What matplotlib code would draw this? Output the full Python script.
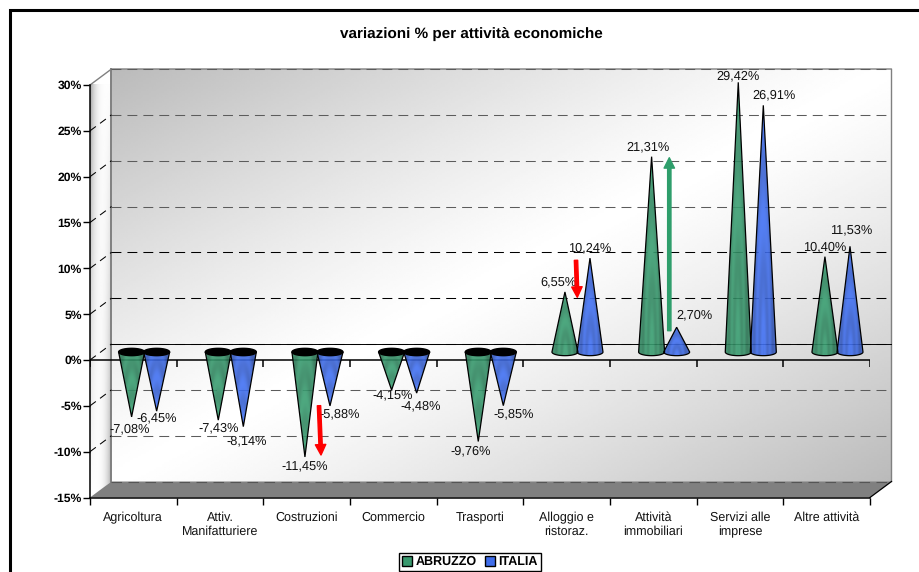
import matplotlib
matplotlib.use('Agg')
import matplotlib.pyplot as plt
import numpy as np
from matplotlib.patches import Polygon, Patch, Rectangle

plt.rcParams['font.family'] = ['Liberation Sans', 'DejaVu Sans']
plt.rcParams['text.hinting'] = 'none'

categories = ['Agricoltura', 'Attiv.\nManifatturiere', 'Costruzioni', 'Commercio', 'Trasporti',
              'Alloggio e\nristoraz.', 'Attività\nimmobiliari', 'Servizi alle\nimprese', 'Altre attività']
abruzzo = [-7.08, -7.43, -11.45, -4.15, -9.76, 6.55, 21.31, 29.42, 10.40]
italia = [-6.45, -8.14, -5.88, -4.48, -5.85, 10.24, 2.70, 26.91, 11.53]
y_ticks = [-15, -10, -5, 0, 5, 10, 15, 20, 25, 30]

# where the labels sit relative to the cone tip, in pixels
abruzzo_off = [(-2, -12), (0, -8), (0, -9), (1, -5), (-8, -10), (-7, 10), (-4, 10), (0, 6), (0, 10)]
italia_off = [(0, -7), (3, -14), (10, -8), (4, -13), (10, -8), (0, 10), (18, 12), (11, 10), (1, 16)]

W, H = 919, 572
GREEN = np.array([0.22, 0.60, 0.43])
BLUE = np.array([0.25, 0.43, 0.92])

fig = plt.figure(figsize=(W / 100, H / 100), dpi=100)
ax = fig.add_axes([90 / W, (H - 497.5) / H, 780 / W, 412.5 / H])
ax.set_facecolor('none')
ax.set_autoscale_on(False)
ax.set_xlim(0, 9)
ax.set_ylim(-15, 30)

# depth of the fake 3d box, data units
DX = 21.5 / 86.67
DY = 16 / 9.167


def wall_back():
    u, s = np.meshgrid(np.linspace(0, 1, 300), np.linspace(0, 1, 200))
    d = np.abs(u + s - 1)
    ax.imshow(1 - 0.27 * d ** 1.2, cmap='gray', vmin=0, vmax=1, aspect='auto', zorder=1, clip_on=False,
              extent=(DX, 9 + DX, -15 + DY, 30 + DY), interpolation='bilinear')


def wall_side():
    u, s = np.meshgrid(np.linspace(0, 1, 40), np.linspace(0, 1, 200))
    v = 1 - 0.38 * ((1 - s) * (1 - u) ** 4 + s * u ** 4)
    im = ax.imshow(v, cmap='gray', vmin=0, vmax=1, aspect='auto', zorder=1,
                   extent=(0, DX, -15, 30 + DY), interpolation='bilinear')
    clip = Polygon([(0, -15), (DX, -15 + DY), (DX, 30 + DY), (0, 30)], closed=True, fc='none', ec='none',
                   transform=ax.transData, clip_on=False)
    ax.add_patch(clip)
    im.set_clip_path(clip)
    im.set_clip_box(None)


def cone(x, value, color):
    base = DY / 2
    bw = 0.15
    eh = 0.40
    tip = base + value
    t = np.linspace(0, np.pi, 40)
    if value >= 0:
        arc = np.column_stack([x - bw * np.cos(t), base - eh * np.sin(t)])
    else:
        arc = np.array([[x - bw, base], [x + bw, base]])
    pts = np.vstack([arc, [[x, tip]]])
    poly = Polygon(pts, closed=True, fc='none', ec='black', lw=0.9, zorder=5, clip_on=False)
    ax.add_patch(poly)
    # wood like texture of the original chart
    u, s = np.meshgrid(np.linspace(-1, 1, 70), np.linspace(0, 1, 120))
    rings = np.sin(16 * np.sqrt(u ** 2 + (0.9 * s) ** 2))
    shade = 0.97 + 0.07 * rings - 0.2 * u ** 2 - 0.08 * np.clip(u, 0, 1)
    tex = np.clip(color[None, None, :] * shade[:, :, None], 0, 1)
    lo, hi = min(base - eh, tip), max(base + eh, tip)
    im = ax.imshow(tex, aspect='auto', zorder=4, alpha=0.9, extent=(x - bw, x + bw, lo, hi),
                   interpolation='bilinear', origin='lower')
    im.set_clip_path(poly)
    im.set_clip_box(None)
    if value < 0:
        xe = x + bw * np.cos(np.linspace(0, 2 * np.pi, 60))
        ye = base + eh * np.sin(np.linspace(0, 2 * np.pi, 60))
        ax.fill(xe, ye, color='black', zorder=6, clip_on=False)


wall_back()
wall_side()

# floor
ax.add_patch(Polygon([(0, -15), (9, -15), (9 + DX, -15 + DY), (DX, -15 + DY)], closed=True, fc='#808080',
                     ec='none', zorder=1.5, clip_on=False))
ax.plot([9, 9 + DX], [-15, -15 + DY], color='black', lw=0.9, zorder=3, clip_on=False)

# box outline
ax.plot([0, DX, 9 + DX, 9 + DX], [30, 30 + DY, 30 + DY, -15 + DY], color='#808080', lw=1, zorder=1.8, clip_on=False)
ax.plot([DX, DX], [30 + DY, -15 + DY], color='#808080', lw=1.4, zorder=1.8, clip_on=False)

# gridlines on back wall and side wall
for y in y_ticks[1:]:
    col = 'black' if y in (0, 5, 10) else '#5c5c5c'
    ax.plot([DX, 9 + DX], [y + DY, y + DY], color=col, lw=0.75, ls=(0, (9.5, 5.8)), zorder=2, clip_on=False)
    if y != 30:
        ax.plot([0, DX], [y, y + DY], color='black', lw=0.75, ls=(0, (7, 5)), zorder=2, clip_on=False)
ax.plot([DX, 9 + DX], [DY, DY], color='black', lw=0.7, zorder=2, clip_on=False)
ax.plot([DX, 9 + DX], [-15 + DY, -15 + DY], color='#555555', lw=0.8, ls=(0, (9.5, 5.8)), zorder=2, clip_on=False)

# zero line with its ticks
ax.axhline(0, color='black', lw=1.1, zorder=3)
ax.vlines(np.arange(10), -0.76, 0, color='black', lw=1.1, zorder=3)

for i in range(len(categories)):
    mid = i + 0.5 + DX / 2
    cone(mid - 0.144, abruzzo[i], GREEN)
    cone(mid + 0.145, italia[i], BLUE)
    for xp, v, off in ((mid - 0.144, abruzzo[i], abruzzo_off[i]), (mid + 0.145, italia[i], italia_off[i])):
        ax.annotate(f'{v:.2f}%'.replace('.', ','), (xp, DY / 2 + v), xytext=off, textcoords='offset pixels',
                    ha='center', va='center', fontsize=9.2, color='#111111', zorder=7, annotation_clip=False)

# arrows, placed on the figure by hand like in the original
for start, end, col in (((319, 405.7), (321, 455), 'red'), ((576, 260.3), (577.3, 297.3), 'red'),
                        ((669.3, 330.7), (669.3, 157.7), '#2e9e6b')):
    ax.annotate('', xy=(end[0], H - end[1]), xytext=(start[0], H - start[1]), xycoords='figure pixels',
                textcoords='figure pixels', zorder=8, annotation_clip=False,
                arrowprops=dict(width=2.4, headwidth=7.5, headlength=7.5, color=col, shrink=0))

for side in ('top', 'right'):
    ax.spines[side].set_visible(False)
for side in ('left', 'bottom'):
    ax.spines[side].set_linewidth(1.1)
    ax.spines[side].set_zorder(3)

ax.set_yticks(y_ticks)
ax.set_yticklabels([f'{y}%' for y in y_ticks], fontweight='bold', fontsize=8.7)
ax.tick_params(axis='y', length=5, width=1, pad=1)
ax.set_xticks(np.arange(10))
ax.set_xticklabels([])
ax.tick_params(axis='x', length=5, width=1)
ax.set_xticks(np.arange(9) + 0.5, minor=True)
ax.set_xticklabels(categories, minor=True, fontsize=9, color='#111111', linespacing=1.25)
ax.tick_params(axis='x', which='minor', length=0, pad=10)

fig.text(471 / W, (H - 34) / H, 'variazioni % per attività economiche', ha='center', va='center',
         fontsize=11, fontweight='bold')

handles = [Patch(fc=GREEN, ec='black', lw=1, label='ABRUZZO'), Patch(fc=BLUE, ec='black', lw=1, label='ITALIA')]
fig.legend(handles=handles, loc='center', bbox_to_anchor=(470 / W, (H - 562) / H), ncol=2, frameon=True,
           fancybox=False, edgecolor='black', framealpha=1, prop={'weight': 'bold', 'size': 9},
           handlelength=0.8, handleheight=0.8, handletextpad=0.3, columnspacing=0.6, borderpad=0.22,
           borderaxespad=0)

# outer border of the chart, it runs off the right and bottom of the picture
fig.add_artist(Rectangle((10.3 / W, -0.1), 1, (H - 9.5) / H + 0.1, transform=fig.transFigure, fill=False,
                         ec='black', lw=2.2))

fig.savefig('out.png', dpi=100)
